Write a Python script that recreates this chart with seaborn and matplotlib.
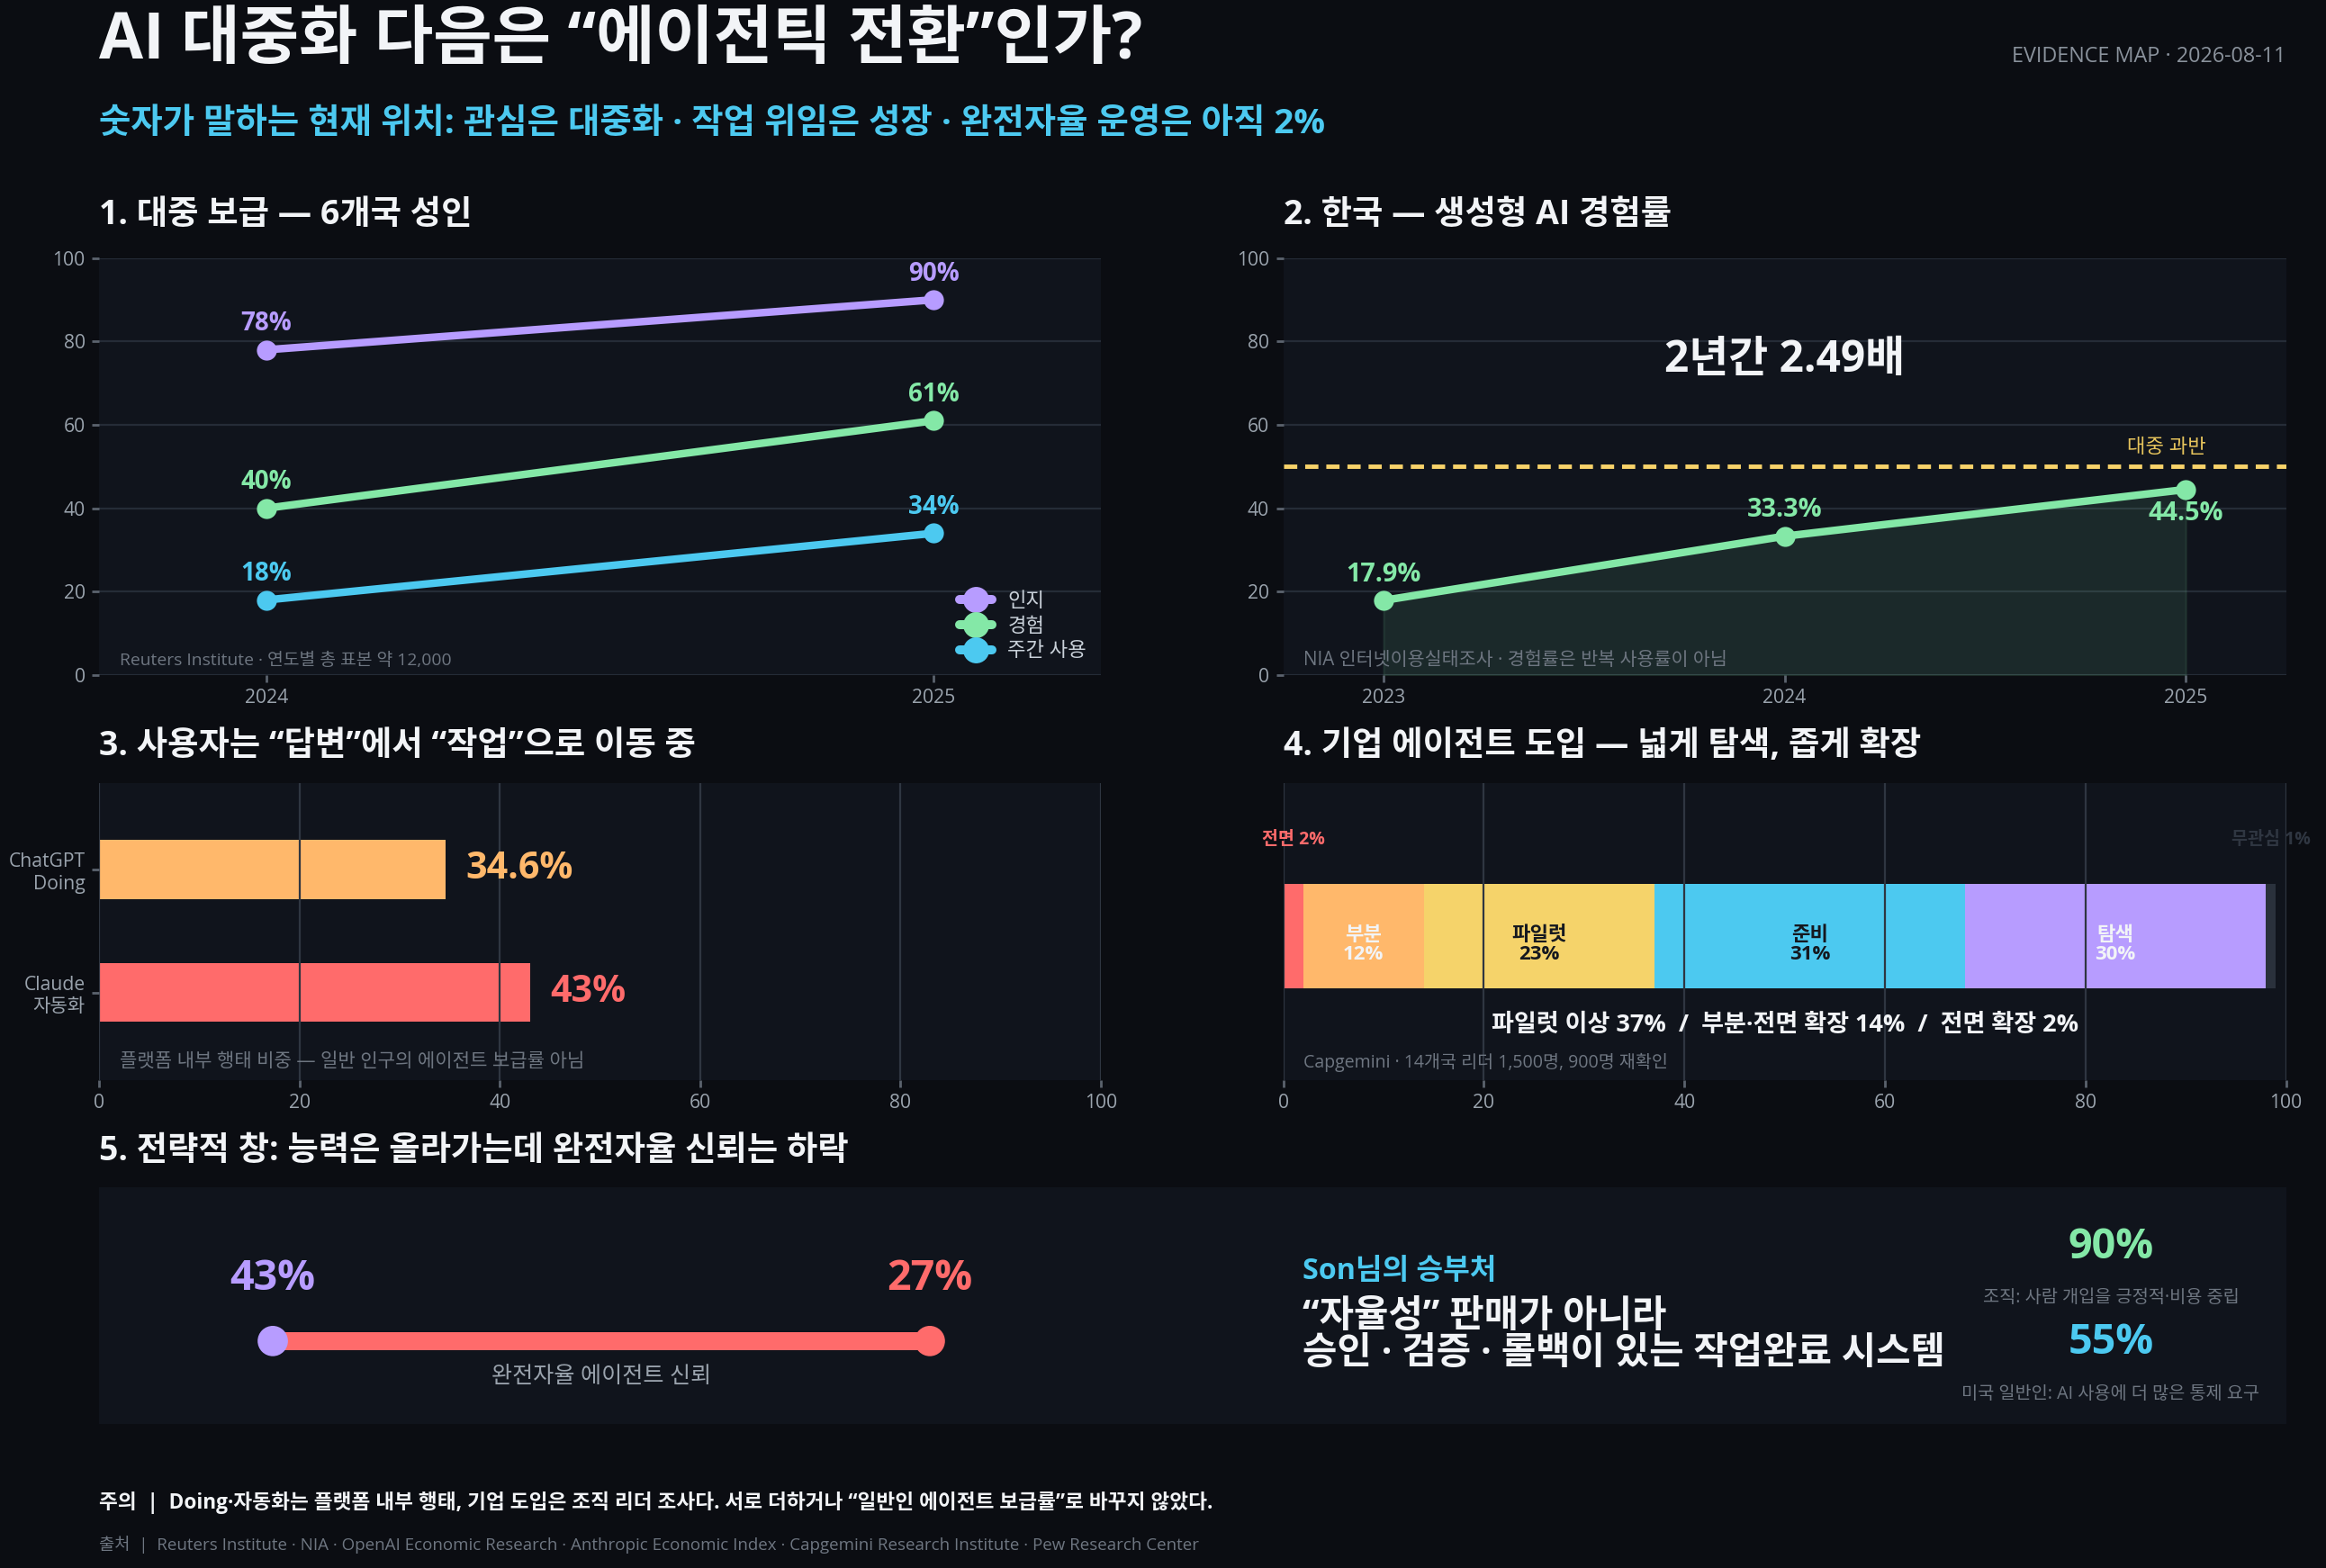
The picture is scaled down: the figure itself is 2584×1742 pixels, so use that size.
import numpy as np
import pandas as pd
import matplotlib
matplotlib.use("Agg")
import matplotlib.pyplot as plt
import seaborn as sns

# ---- data ----
reach_years = [2024, 2025]
reach_series = ["인지", "경험", "주간 사용"]
reach_aware = [78, 90]
reach_tried = [40, 61]
reach_weekly = [18, 34]

kr_years = [2023, 2024, 2025]
kr_experience = [17.9, 33.3, 44.5]
kr_majority = 50

task_labels = ["ChatGPT\nDoing", "Claude\n자동화"]
task_values = [34.6, 43]

stage_names = ["전면", "부분", "파일럿", "준비", "탐색", "무관심"]
stage_values = [2, 12, 23, 31, 30, 1]

trust_points = ["이전", "최근"]
trust_values = [43, 27]

side_stats = [90, 55]
side_notes = ["조직: 사람 개입을 긍정적·비용 중립", "미국 일반인: AI 사용에 더 많은 통제 요구"]

# ---- colours ----
BG = "#0b0d12"
PANEL = "#10141c"
GRID = "#252c37"
TEXT = "#f2f4f7"
MUTED = "#9aa3ad"
DIM = "#6e7681"
PURPLE = "#b79cff"
GREEN = "#84e8a7"
CYAN = "#4cc9f0"
ORANGE = "#ffb86b"
RED = "#ff6b6b"
YELLOW = "#f5d36a"
NONE_C = "#2a313c"

sns.set_theme(style="dark", rc={
    "figure.facecolor": BG, "axes.facecolor": PANEL, "axes.edgecolor": PANEL,
    "grid.color": GRID, "grid.linewidth": 1.0, "text.color": TEXT,
    "xtick.color": "#5b636e", "ytick.color": "#5b636e",
    "xtick.labelcolor": MUTED, "ytick.labelcolor": MUTED,
    "xtick.bottom": True, "ytick.left": True,
    "xtick.major.size": 3.5, "ytick.major.size": 3.5,
    "xtick.labelsize": 9.5, "ytick.labelsize": 9.5,
    "patch.edgecolor": "none",
})
plt.rcParams["font.family"] = ["Open Sans", "Noto Sans CJK KR", "DejaVu Sans"]


def clean(ax):
    for s in ax.spines.values():
        s.set_visible(False)
    ax.set_xlabel("")
    ax.set_ylabel("")


fig = plt.figure(figsize=(16.15, 10.8875), dpi=160)
L, R = 0.0427, 0.5517
W = 0.4305
TITLE_FS = 16.8
NOTE_FS = 9

# ---- header ----
fig.text(L, 0.9735, "AI 대중화 다음은 “에이전틱 전환”인가?", fontsize=32, fontweight="bold",
         color=TEXT, va="center")
fig.text(L, 0.9205, "숫자가 말하는 현재 위치: 관심은 대중화 · 작업 위임은 성장 · 완전자율 운영은 아직 2%",
         fontsize=17.3, fontweight="bold", color=CYAN, va="center")
fig.text(0.9828, 0.964, "EVIDENCE MAP · 2026-08-11", fontsize=10.5, color="#8a929c",
         ha="right", va="center")

# ---- panel 1 ----
ax1 = fig.add_axes([L, 0.5695, W, 0.2659])
df1 = pd.DataFrame({
    "year": reach_years * 3,
    "value": reach_aware + reach_tried + reach_weekly,
    "series": np.repeat(reach_series, len(reach_years)),
})
pal1 = [PURPLE, GREEN, CYAN]
sns.lineplot(data=df1, x="year", y="value", hue="series", palette=pal1, marker="o",
             markersize=10, markeredgewidth=0, linewidth=3.8, ax=ax1)
for (name, grp), c in zip(df1.groupby("series", sort=False), pal1):
    for x, v in zip(grp["year"], grp["value"]):
        ax1.annotate(f"{v}%", (x, v), xytext=(0, 13), textcoords="offset points",
                     ha="center", va="center", color=c, fontsize=12.5, fontweight="bold")
ax1.set_xlim(2023.75, 2025.25)
ax1.set_xticks(reach_years)
ax1.set_ylim(0, 100)
ax1.set_yticks(range(0, 101, 20))
ax1.grid(axis="y")
leg = ax1.legend(loc="lower right", frameon=False, labelcolor="#c9d1d9", fontsize=10,
                 handlelength=1.6, borderaxespad=0.3, labelspacing=0.3, markerscale=1.3)
for h in leg.legend_handles:
    h.set_linewidth(4.5)
ax1.text(0.02, 0.035, "Reuters Institute · 연도별 총 표본 약 12,000", transform=ax1.transAxes,
         fontsize=NOTE_FS - 0.3, color=DIM, va="center")
clean(ax1)
fig.text(L, 0.8628, "1. 대중 보급 — 6개국 성인", fontsize=TITLE_FS, fontweight="bold", color=TEXT, va="center")

# ---- panel 2 ----
ax2 = fig.add_axes([R, 0.5695, 0.4311, 0.2659])
ax2.fill_between(kr_years, kr_experience, color=GREEN, alpha=0.1, lw=1)
sns.lineplot(x=kr_years, y=kr_experience, color=GREEN, marker="o", markersize=10,
             markeredgewidth=0, linewidth=3.8, ax=ax2)
ax2.axhline(kr_majority, color="#f7d26a", lw=2.2, ls=(0, (3, 1.8)))
ax2.text(kr_years[-1] + 0.05, kr_majority + 4.5, "대중 과반", color="#e6c45c", fontsize=10,
         ha="right", va="center")
for i, (x, v) in enumerate(zip(kr_years, kr_experience)):
    dy = -12 if i == len(kr_years) - 1 else 13
    ax2.annotate(f"{v}%", (x, v), xytext=(0, dy), textcoords="offset points",
                 ha="center", va="center", color=GREEN, fontsize=13, fontweight="bold")
ratio = kr_experience[-1] / kr_experience[0]
ax2.text(kr_years[1], 75.5, f"{len(kr_years) - 1}년간 {ratio:.2f}배", ha="center", va="center",
         fontsize=21.5, fontweight="bold", color=TEXT)
ax2.set_xlim(2022.75, 2025.25)
ax2.set_xticks(kr_years)
ax2.set_ylim(0, 100)
ax2.set_yticks(range(0, 101, 20))
ax2.grid(axis="y")
ax2.text(0.02, 0.035, "NIA 인터넷이용실태조사 · 경험률은 반복 사용률이 아님", transform=ax2.transAxes,
         fontsize=NOTE_FS + 0.3, color=DIM, va="center")
clean(ax2)
fig.text(R, 0.8628, "2. 한국 — 생성형 AI 경험률", fontsize=TITLE_FS, fontweight="bold", color=TEXT, va="center")

# ---- panel 3 ----
ax3 = fig.add_axes([L, 0.3113, W, 0.1892])
df3 = pd.DataFrame({"label": task_labels, "value": task_values})
pal3 = [ORANGE, RED]
sns.barplot(data=df3, y="label", x="value", hue="label", palette=pal3, width=0.48,
            saturation=1, legend=False, linewidth=0, ax=ax3)
for i, (v, c) in enumerate(zip(task_values, pal3)):
    ax3.text(v + 2, i, f"{v:g}%", color=c, fontsize=18.5, fontweight="bold", va="center", ha="left")
ax3.set_xlim(0, 100)
ax3.set_xticks(range(0, 101, 20))
ax3.set_ylim(1.71, -0.70)
ax3.set_axisbelow(False)
ax3.grid(axis="x", color="#2f3641")
ax3.tick_params(axis="y", labelsize=9.5)
ax3.text(0.02, 0.06, "플랫폼 내부 행태 비중 — 일반 인구의 에이전트 보급률 아님", transform=ax3.transAxes,
         fontsize=NOTE_FS + 0.5, color=DIM, va="center")
clean(ax3)
fig.text(L, 0.5241, "3. 사용자는 “답변”에서 “작업”으로 이동 중", fontsize=TITLE_FS, fontweight="bold",
         color=TEXT, va="center")

# ---- panel 4 ----
ax4 = fig.add_axes([R, 0.3113, 0.4311, 0.1892])
pal4 = [RED, ORANGE, YELLOW, CYAN, PURPLE, NONE_C]
inner_colors = [None, TEXT, "#15181f", "#15181f", TEXT, None]
left = np.concatenate([[0], np.cumsum(stage_values)[:-1]])
ax4.barh([0] * len(stage_values), stage_values, left=left, height=0.35, color=pal4,
         linewidth=0, zorder=1)
for name, v, x0, tc in zip(stage_names, stage_values, left, inner_colors):
    if tc is not None:
        ax4.text(x0 + v / 2, 0.03, f"{name}\n{v}%", ha="center", va="center", color=tc,
                 fontsize=10, fontweight="bold", linespacing=1.0)
ax4.text(left[0] + stage_values[0] / 2, -0.325, f"{stage_names[0]} {stage_values[0]}%",
         ha="center", va="center", color=RED, fontsize=8.8, fontweight="bold")
ax4.text(left[-1] + stage_values[-1] / 2, -0.325, f"{stage_names[-1]} {stage_values[-1]}%",
         ha="center", va="center", color="#2f3641", fontsize=8.8, fontweight="bold")
pilot_up = sum(stage_values[:3])
scaled = sum(stage_values[:2])
ax4.text(50, 0.30, f"파일럿 이상 {pilot_up}%  /  부분·전면 확장 {scaled}%  /  전면 확장 {stage_values[0]}%",
         ha="center", va="center", color=TEXT, fontsize=12.2, fontweight="bold")
ax4.set_xlim(0, 100)
ax4.set_xticks(range(0, 101, 20))
ax4.set_ylim(0.485, -0.515)
ax4.set_yticks([])
ax4.set_axisbelow(False)
ax4.grid(axis="x", color="#2f3641")
ax4.text(0.02, 0.06, "Capgemini · 14개국 리더 1,500명, 900명 재확인", transform=ax4.transAxes,
         fontsize=NOTE_FS - 0.2, color=DIM, va="center")
clean(ax4)
fig.text(R, 0.5241, "4. 기업 에이전트 도입 — 넓게 탐색, 좁게 확장", fontsize=TITLE_FS, fontweight="bold",
         color=TEXT, va="center")

# ---- panel 5 ----
fig.text(L, 0.2658, "5. 전략적 창: 능력은 올라가는데 완전자율 신뢰는 하락", fontsize=TITLE_FS,
         fontweight="bold", color=TEXT, va="center")
ax5 = fig.add_axes([L, 0.0918, 0.9401, 0.1513])
ax5.set_xticks([])
ax5.set_yticks([])
ax5.grid(False)
clean(ax5)

axd = fig.add_axes([L, 0.0918, 0.4675, 0.1513])
axd.patch.set_alpha(0)
pos = np.arange(len(trust_values))
track = np.zeros(len(trust_values))
sns.lineplot(x=pos, y=track, color=RED, linewidth=9, ax=axd)
sns.scatterplot(x=pos, y=track, hue=trust_points, palette=[PURPLE, RED], s=230, linewidth=0,
                legend=False, zorder=3, ax=axd)
for p, v, c in zip(pos, trust_values, [PURPLE, RED]):
    axd.text(p, 0.42, f"{v}%", ha="center", va="center", color=c, fontsize=21, fontweight="bold")
axd.text(pos.mean(), -0.24, "완전자율 에이전트 신뢰", ha="center", va="center", color=MUTED, fontsize=11.3)
axd.set_xlim(-0.264, 1.391)
axd.set_ylim(-0.56, 1.04)
axd.axis("off")

fig.text(0.56, 0.1892, "Son님의 승부처", fontsize=14.5, fontweight="bold", color=CYAN, va="center")
fig.text(0.56, 0.1599, "“자율성” 판매가 아니라", fontsize=18.8, fontweight="bold", color=TEXT, va="center")
fig.text(0.56, 0.1362, "승인 · 검증 · 롤백이 있는 작업완료 시스템", fontsize=18.8, fontweight="bold",
         color=TEXT, va="center")
for v, note, c, ys in zip(side_stats, side_notes, [GREEN, CYAN], [(0.2044, 0.1722), (0.1438, 0.1107)]):
    fig.text(0.9075, ys[0], f"{v}%", fontsize=21, fontweight="bold", color=c, ha="center", va="center")
    fig.text(0.9075, ys[1], note, fontsize=8.9, color=DIM, ha="center", va="center")

# ---- footer ----
fig.text(L, 0.0416, "주의  |  Doing·자동화는 플랫폼 내부 행태, 기업 도입은 조직 리더 조사다. "
         "서로 더하거나 “일반인 에이전트 보급률”로 바꾸지 않았다.",
         fontsize=10.2, fontweight="bold", color=TEXT, va="center")
fig.text(L, 0.0151, "출처  |  Reuters Institute · NIA · OpenAI Economic Research · Anthropic Economic Index"
         " · Capgemini Research Institute · Pew Research Center",
         fontsize=8.45, color=DIM, va="center")

fig.savefig("out.png", dpi=160, facecolor=BG)
